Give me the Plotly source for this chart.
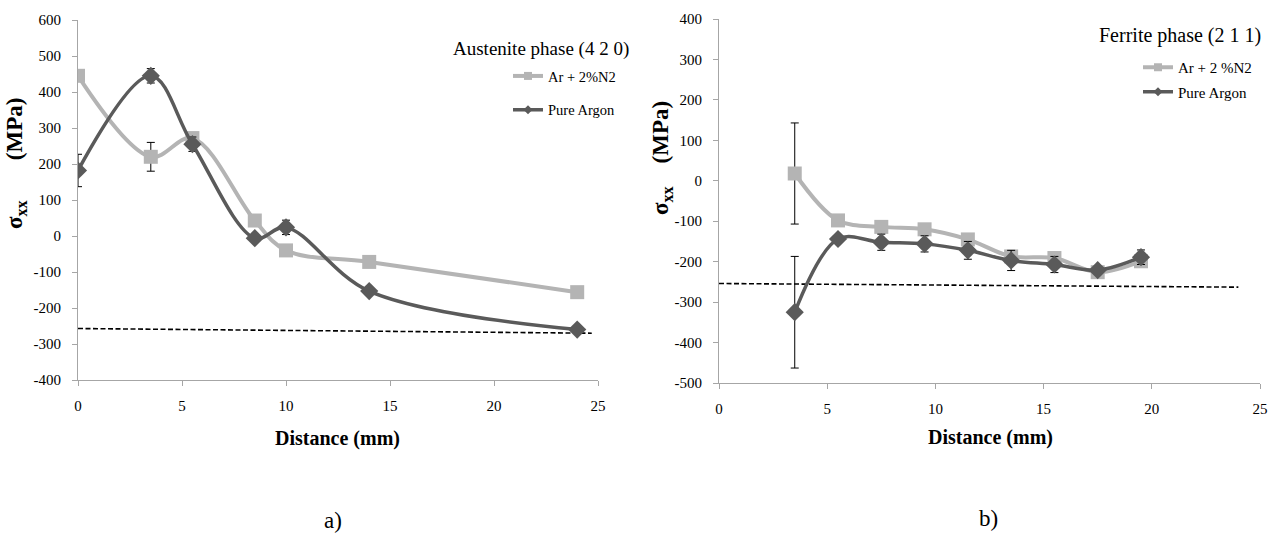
import plotly.graph_objects as go

# ---- Data: (a) Austenite phase (4 2 0)
a_x_n2 = [0, 3.5, 5.5, 8.5, 10, 14, 24]
a_y_n2 = [445, 220, 272, 43, -40, -72, -156]
a_err_n2 = [0, 40, 0, 0, 0, 0, 0]

a_x_ar = [0, 3.5, 5.5, 8.5, 10, 14, 24]
a_y_ar = [182, 445, 255, -6, 24, -153, -260]
a_err_ar = [45, 20, 20, 0, 20, 0, 0]

a_ref_x = [0, 24.7]
a_ref_y = [-257, -270]

a_yticks = [-400, -300, -200, -100, 0, 100, 200, 300, 400, 500, 600]
a_yticklabels = ["-400", "-300", "-200", "-100", "0", "100", "200", "300", "400", "500", "600"]

# ---- Data: (b) Ferrite phase (2 1 1)
b_x = [3.5, 5.5, 7.5, 9.5, 11.5, 13.5, 15.5, 17.5, 19.5]
b_y_n2 = [18, -98, -114, -120, -145, -187, -191, -226, -199]
b_err_n2 = [125, 0, 0, 0, 0, 0, 0, 0, 0]
b_y_ar = [-325, -144, -152, -156, -172, -197, -207, -221, -189]
b_err_ar = [138, 0, 20, 20, 22, 25, 20, 0, 18]

b_ref_x = [0, 24]
b_ref_y = [-254, -263]

b_yticks = [-500, -400, -300, -200, -100, 0, 100, 200, 300, 400]
b_yticklabels = ["-500", "-400", "-300", "-200", "-100", "0", "100", "200", "300", "400"]

x_ticks = [0, 5, 10, 15, 20, 25]

LIGHT = "#b4b4b4"
DARK = "#5a5a5a"
FONT = "Liberation Serif, Times New Roman, serif"
W, H = 1272, 534

def fx(p):  # screen pixel -> paper
    return p / W

def fy(p):
    return 1 - p / H

fig = go.Figure()

def add_set(xa, ya, leg, xs, ys1, e1, ys2, e2, rx, ry, name1):
    fig.add_trace(go.Scatter(
        x=rx, y=ry, mode="lines", xaxis=xa, yaxis=ya, showlegend=False,
        line=dict(color="black", width=1.6, dash="5px,2.5px"), hoverinfo="skip"))
    fig.add_trace(go.Scatter(
        x=xs[0], y=ys1, mode="lines+markers", name=name1, xaxis=xa, yaxis=ya,
        showlegend=False,
        line=dict(color=LIGHT, width=4, shape="spline", smoothing=1),
        marker=dict(symbol="square", size=14, color=LIGHT),
        error_y=dict(type="data", array=e1, visible=True, color="black",
                     thickness=1, width=4)))
    fig.add_trace(go.Scatter(
        x=xs[1], y=ys2, mode="lines+markers", name="Pure Argon", xaxis=xa, yaxis=ya,
        showlegend=False,
        line=dict(color=DARK, width=3.5, shape="spline", smoothing=1),
        marker=dict(symbol="diamond", size=14, color=DARK),
        error_y=dict(type="data", array=e2, visible=True, color="black",
                     thickness=1, width=4)))
    # legend entries (small markers, like the original legend)
    fig.add_trace(go.Scatter(
        x=[None], y=[None], mode="lines+markers", name=name1, xaxis=xa, yaxis=ya,
        legend=leg, legendgroup=leg + "1",
        line=dict(color=LIGHT, width=4), marker=dict(symbol="square", size=8, color=LIGHT)))
    fig.add_trace(go.Scatter(
        x=[None], y=[None], mode="lines+markers", name="Pure Argon", xaxis=xa, yaxis=ya,
        legend=leg, legendgroup=leg + "2",
        line=dict(color=DARK, width=3.5), marker=dict(symbol="diamond", size=7, color=DARK)))

add_set("x", "y", "legend", (a_x_n2, a_x_ar), a_y_n2, a_err_n2, a_y_ar, a_err_ar,
        a_ref_x, a_ref_y, "Ar + 2%N2")
add_set("x2", "y2", "legend2", (b_x, b_x), b_y_n2, b_err_n2, b_y_ar, b_err_ar,
        b_ref_x, b_ref_y, "Ar + 2 %N2")

axcommon = dict(showgrid=False, zeroline=False, showline=True, linecolor="#a6a6a6",
                linewidth=1, ticks="outside", ticklen=5, tickcolor="#a6a6a6",
                automargin=False, tickmode="array",
                tickfont=dict(family=FONT, size=15, color="black"))

fig.update_layout(
    width=W, height=H, margin=dict(l=0, r=0, t=0, b=0, autoexpand=False),
    paper_bgcolor="white", plot_bgcolor="white",
    font=dict(family=FONT, color="black"),
    xaxis=dict(domain=[fx(78), fx(598)], range=[0, 25], tickvals=x_ticks, anchor="y",
               ticklabelstandoff=7, **axcommon),
    yaxis=dict(domain=[fy(380), fy(20)], range=[-400, 600], tickvals=a_yticks,
               ticktext=a_yticklabels, anchor="x", ticklabelstandoff=8, **axcommon),
    xaxis2=dict(domain=[fx(719), fx(1260)], range=[0, 25], tickvals=x_ticks, anchor="y2",
                ticklabelstandoff=7, **axcommon),
    yaxis2=dict(domain=[fy(383), fy(19)], range=[-500, 400], tickvals=b_yticks,
                ticktext=b_yticklabels, anchor="x2", ticklabelstandoff=8, **axcommon),
    legend=dict(x=fx(508), y=fy(60), xanchor="left", yanchor="top",
                font=dict(family=FONT, size=14.5), bgcolor="rgba(0,0,0,0)",
                tracegroupgap=12, itemwidth=30),
    legend2=dict(x=fx(1138), y=fy(51), xanchor="left", yanchor="top",
                 font=dict(family=FONT, size=15), bgcolor="rgba(0,0,0,0)",
                 tracegroupgap=2, itemwidth=30),
)

NB = "\u00a0"
anns = [
    dict(text="Austenite phase (4 2 0)", x=fx(631), y=fy(49), xanchor="right", font=dict(size=19)),
    dict(text="Ferrite phase (2 1 1)", x=fx(1263), y=fy(35), xanchor="right", font=dict(size=20)),
    dict(text="<b>Distance (mm)</b>", x=fx(337), y=fy(438), font=dict(size=20)),
    dict(text="<b>Distance (mm)</b>", x=fx(990), y=fy(437), font=dict(size=20)),
    dict(text="<b>σ<sub>xx</sub>" + NB * 7 + "(MPa)</b>", x=fx(16), y=fy(164),
         textangle=-90, font=dict(size=23)),
    dict(text="<b>σ<sub>xx</sub>" + NB * 4 + "(MPa)</b>", x=fx(662), y=fy(158),
         textangle=-90, font=dict(size=23)),
    dict(text="a)", x=fx(333), y=fy(520), font=dict(size=23)),
    dict(text="b)", x=fx(988), y=fy(518), font=dict(size=23)),
]
for a in anns:
    a.setdefault("xanchor", "center")
    a.update(xref="paper", yref="paper", showarrow=False, yanchor="middle")
    a["font"] = dict(family=FONT, color="black", **a["font"])
    fig.add_annotation(**a)

post = ("document.documentElement.style.margin='0';"
        "document.documentElement.style.padding='0';"
        "document.body.style.margin='0';document.body.style.padding='0';"
        "document.body.style.overflow='hidden';")
fig.write_html("out.html", post_script=post, config={"displayModeBar": False})
